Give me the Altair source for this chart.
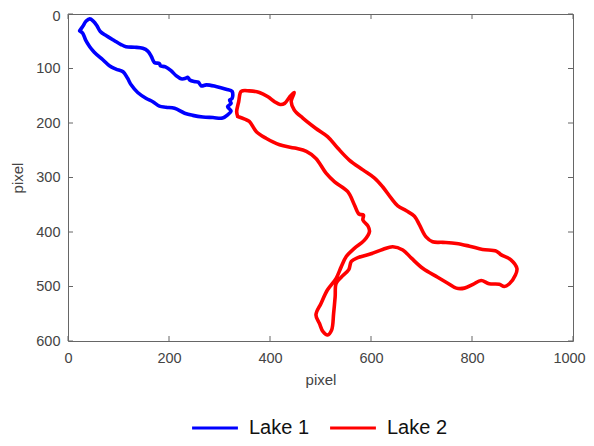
import altair as alt
import pandas as pd

lake1_x = [23,29,36,43,50,57,64,76,92,105,115,132,148,158,165,171,181,183,193,204,214,224,233,237,241,250,258,264,274,293,313,325,325,320,323,316,323,316,306,287,267,247,231,211,194,181,168,155,138,125,118,109,95,82,69,52,43,35,29,23]
lake1_y = [31,23,13,9,13,21,32,40,49,56,60,61,63,68,78,89,91,95,97,104,113,119,118,116,121,124,125,132,130,133,138,142,155,158,164,170,178,185,191,190,189,186,182,173,171,169,161,155,144,130,118,106,101,95,84,70,60,48,35,31]
lake2_x = [336,334,338,343,359,379,396,409,420,429,439,448,442,448,465,491,514,534,557,584,607,623,640,653,670,686,696,709,722,742,769,795,821,848,858,877,889,886,874,864,854,834,818,802,785,769,752,732,703,680,663,643,623,600,574,561,556,541,531,529,526,522,514,505,498,491,501,514,531,541,551,567,587,597,594,584,585,576,567,554,528,511,491,472,449,419,392,373,359,350,336]
lake2_y = [188,179,161,142,141,144,152,161,166,164,152,144,161,176,191,210,225,246,268,286,301,317,338,352,361,371,387,409,418,419,421,426,432,435,442,451,467,479,495,500,496,495,489,496,503,503,494,483,467,448,433,427,432,440,447,454,469,483,494,519,549,580,589,583,568,552,531,506,485,464,445,430,415,399,389,378,369,367,350,326,308,292,265,252,246,240,228,216,197,193,188]
x_ticks = [0,200,400,600,800,1000]
y_ticks = [0,100,200,300,400,500,600]
series = ["Lake 1","Lake 2"]
colors = ["#0000ff","#ff0000"]

rows = [dict(x=a,y=b,lake="Lake 1",i=k) for k,(a,b) in enumerate(zip(lake1_x,lake1_y))]
rows += [dict(x=a,y=b,lake="Lake 2",i=k) for k,(a,b) in enumerate(zip(lake2_x,lake2_y))]
df = pd.DataFrame(rows)

W, H = 505, 327
GRAY = "#666666"; TXT = "#444444"; FONT = "Liberation Sans"
xs = alt.Scale(domain=[0,1000], nice=False, zero=False)
ys = alt.Scale(domain=[0,600], reverse=True, nice=False, zero=False)

lines = alt.Chart(df).mark_line(strokeWidth=3.6, strokeJoin="round", strokeCap="round", interpolate="catmull-rom").encode(
    x=alt.X("x:Q", scale=xs, axis=alt.Axis(values=x_ticks, title="pixel", grid=False, ticks=False,
        labelPadding=10, titlePadding=8, labelFontSize=14.5, titleFontSize=15, titleFontWeight="normal",
        labelFlush=False, format="d",
        labelOffset={"condition": {"test": "datum.value == 1000", "value": -4}, "value": 0})),
    y=alt.Y("y:Q", scale=ys, axis=alt.Axis(values=y_ticks, title="pixel", grid=False, ticks=False,
        labelPadding=8, titlePadding=10, labelFontSize=14.5, titleFontSize=15, titleFontWeight="normal", format="d",
        labelOffset={"condition": {"test": "datum.value == 0", "value": 2}, "value": 0})),
    color=alt.Color("lake:N", scale=alt.Scale(domain=series, range=colors), legend=alt.Legend(
        title=None, orient="none", legendX=122, legendY=389, direction="horizontal", columns=2,
        symbolType="stroke", symbolSize=2100, symbolStrokeWidth=3.2, labelFontSize=20, labelFont=FONT,
        labelColor="#111111", columnPadding=13, labelOffset=9, symbolOpacity=1)),
    order="i:Q",
)

xt = pd.DataFrame({"v": x_ticks}); yt = pd.DataFrame({"v": y_ticks})
common = dict(stroke=GRAY, strokeWidth=1)
ticks = [
    alt.Chart(xt).mark_rule(**common).encode(x=alt.X("v:Q", scale=xs), y=alt.value(H), y2=alt.value(H-5)),
    alt.Chart(xt).mark_rule(**common).encode(x=alt.X("v:Q", scale=xs), y=alt.value(0), y2=alt.value(5)),
    alt.Chart(yt).mark_rule(**common).encode(y=alt.Y("v:Q", scale=ys), x=alt.value(0), x2=alt.value(5)),
    alt.Chart(yt).mark_rule(**common).encode(y=alt.Y("v:Q", scale=ys), x=alt.value(W), x2=alt.value(W-5)),
]

chart = alt.layer(*ticks, lines).properties(
    width=W, height=H, autosize=alt.AutoSizeParams(type="none"),
    padding={"left":60,"top":6,"right":13,"bottom":97},
).configure_view(stroke=GRAY, strokeWidth=1).configure_axis(
    domain=False, labelColor=TXT, titleColor=TXT, labelFont=FONT, titleFont=FONT,
)

chart.save("out.html", embed_options={"renderer": "svg", "actions": False})
